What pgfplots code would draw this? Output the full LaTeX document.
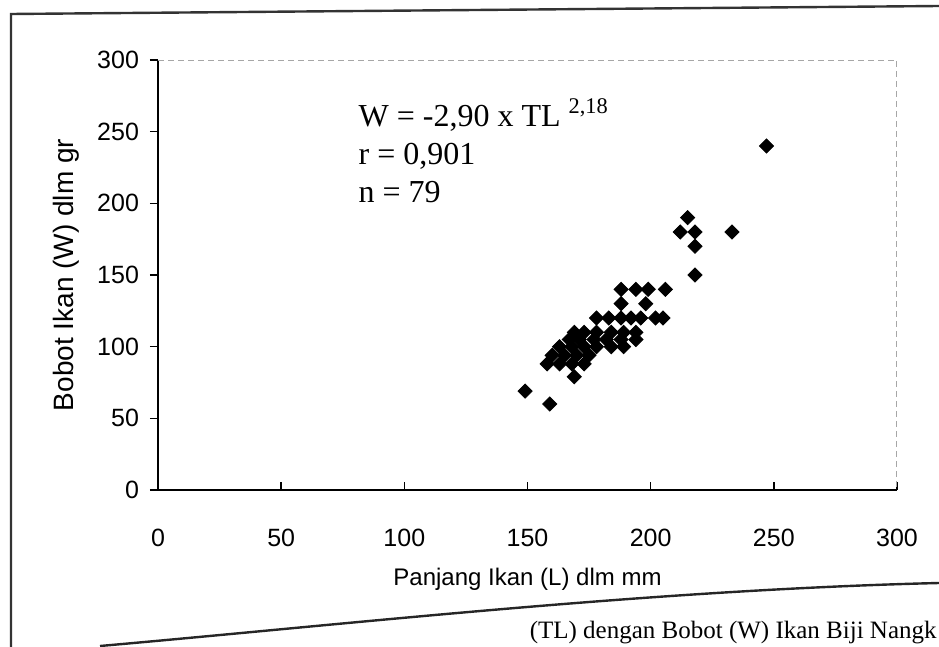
\documentclass[border=0pt]{standalone}
\usepackage{fontspec}
\setmainfont{Liberation Sans}
\newfontfamily\serif{Liberation Serif}
\usepackage{pgfplots}
\pgfplotsset{compat=1.18}

\pgfplotstableread{
x y
149 69
159 60
169 79
158 88
163 88
168 88
173 88
160 94
165 94
170 94
175 94
163 100
168 100
173 100
178 100
184 100
189 100
167 105
171 105
177 105
182 105
188 105
194 105
169 110
173 110
178 110
184 110
189 110
194 110
178 120
183 120
188 120
192 120
196 120
202 120
205 120
188 130
198 130
188 140
194 140
199 140
206 140
215 190
212 180
218 180
218 170
233 180
218 150
247 240
}\ikan

\begin{document}
\begin{tikzpicture}[x=0.5pt,y=-0.5pt]
\path[use as bounding box] (0,0) rectangle (939,647);
\begin{axis}[
  at={(79pt,-245pt)}, anchor=south west,
  width=369.5pt, height=215pt, scale only axis,
  xmin=0, xmax=300, ymin=0, ymax=300,
  xtick={0,50,...,300}, ytick={0,50,...,300},
  axis x line*=bottom, axis y line*=left,
  axis line style={-,black,line width=0.8pt},
  tick align=outside, major tick length=4pt,
  tick style={black,line width=0.8pt},
  xtick style={yshift=4pt},
  /pgf/number format/assume math mode=true,
  ticklabel style={font=\fontsize{12.5}{14}\selectfont},
  xticklabel style={yshift=-12pt},
  yticklabel style={xshift=-2pt},
  xlabel={Panjang Ikan (L) dlm mm},
  ylabel={Bobot Ikan (W) dlm gr},
  xlabel style={font=\fontsize{12}{14}\selectfont, yshift=-4pt},
  ylabel style={font=\fontsize{14}{16}\selectfont, yshift=2pt},
  clip=false,
]
\draw[gray!70, densely dashed, line width=0.5pt]
  (rel axis cs:0,1) -- (rel axis cs:1,1) -- (rel axis cs:1,0);
\addplot[only marks, mark=square*, mark size=2.5pt,
  mark options={rotate=45, fill=black, draw=black}] table {\ikan};
\node[anchor=north west, align=left, inner sep=0pt,
  font=\serif\fontsize{16}{19}\selectfont]
  at (rel axis cs:0.271,0.91)
  {W = -2,90 x TL \textsuperscript{2,18}\\ r = 0,901\\ n = 79};
\end{axis}
% bingkai halaman
\draw[black!80, line width=1.2pt] (11,647) -- (11,14) -- (939,6);
\draw[black!85, line width=1.2pt] (100,646) .. controls (350,624) and (650,590) .. (939,583);
\node[font=\serif\fontsize{12.5}{15}\selectfont, anchor=base east, inner sep=0pt]
  at (937,638) {(TL) dengan Bobot (W) Ikan Biji Nangk};
\end{tikzpicture}
\end{document}
